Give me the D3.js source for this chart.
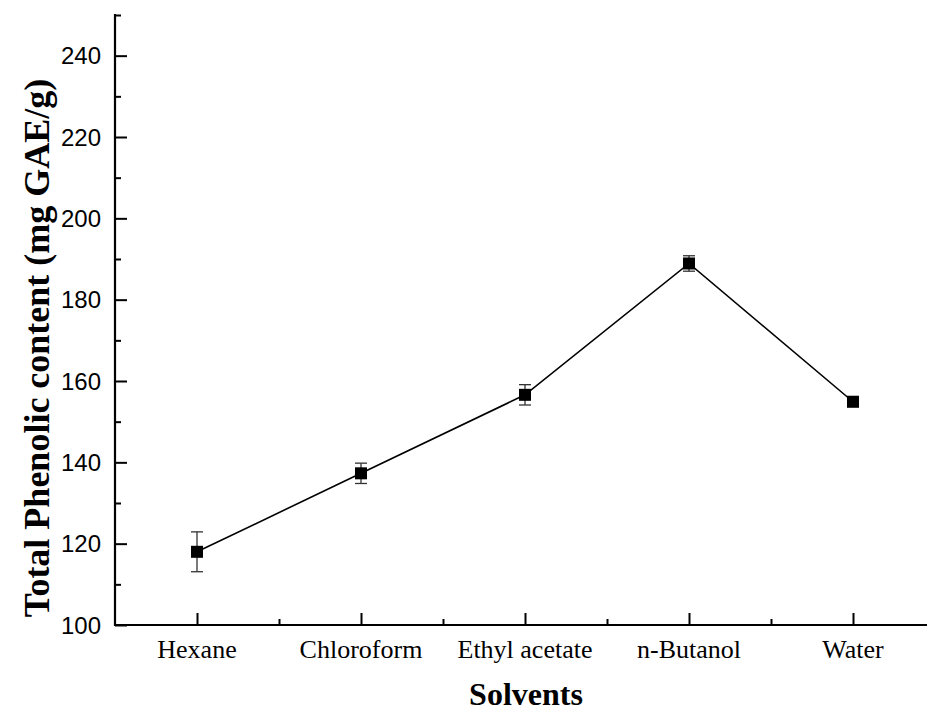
<!DOCTYPE html>
<html>
<head>
<meta charset="utf-8">
<script src="https://cdn.jsdelivr.net/npm/d3@7"></script>
<style>
  body { margin: 0; background: #fff; }
  svg { display: block; }
</style>
</head>
<body>
<svg id="chart" width="927" height="711"></svg>
<script>
  'use strict';

  // solvents and measured phenolic content (mean, sd)
  var solvents = ['Hexane', 'Chloroform', 'Ethyl acetate', 'n-Butanol', 'Water'];
  var phenolic = [118.0, 137.3, 156.6, 188.9, 154.9];
  var errors = [4.9, 2.5, 2.5, 1.9, 1.2];
  var yMajorTicks = [100, 120, 140, 160, 180, 200, 220, 240];
  var yMinorTicks = [110, 130, 150, 170, 190, 210, 230, 250];

  var svg = d3.select('#chart'),
      plotLeft = 115,
      plotBottom = 625,
      plotTop = 15;

  var x = d3.scaleLinear().domain([0.5, 5.5]).range([plotLeft, plotLeft + 5 * 164]);
  var y = d3.scaleLinear().domain([100, 250]).range([plotBottom, plotTop]);

  var points = solvents.map(function (s, i) {
    return {name: s, pos: i + 1, v: phenolic[i], e: errors[i]};
  });

  // y axis, ticks inside
  svg.append('g')
    .attr('transform', 'translate(' + plotLeft + ',0)')
    .call(d3.axisRight(y).tickValues(yMajorTicks).tickSize(12).tickFormat(''))
    .select('.domain').remove();
  svg.append('g')
    .attr('transform', 'translate(' + plotLeft + ',0)')
    .call(d3.axisRight(y).tickValues(yMinorTicks).tickSize(6).tickFormat(''))
    .select('.domain').remove();

  svg.selectAll('.ylab')
    .data(yMajorTicks)
    .enter()
    .append('text')
      .attr('class', 'ylab')
      .attr('x', plotLeft - 14)
      .attr('y', function (d) { return y(d) + 8.5; })
      .attr('text-anchor', 'end')
      .style('font-family', '"Liberation Sans", Arial, sans-serif')
      .style('font-size', '24px')
      .text(function (d) { return d; });

  // x axis, ticks inside
  svg.append('g')
    .attr('transform', 'translate(0,' + plotBottom + ')')
    .call(d3.axisTop(x).tickValues([1, 2, 3, 4, 5]).tickSize(12).tickFormat(''))
    .select('.domain').remove();
  svg.append('g')
    .attr('transform', 'translate(0,' + plotBottom + ')')
    .call(d3.axisTop(x).tickValues([1.5, 2.5, 3.5, 4.5]).tickSize(6).tickFormat(''))
    .select('.domain').remove();

  svg.selectAll('.tick line')
    .attr('stroke', '#000')
    .attr('stroke-width', 2);

  svg.append('line')
    .attr('x1', plotLeft).attr('y1', plotTop - 1)
    .attr('x2', plotLeft).attr('y2', plotBottom + 1)
    .attr('stroke', '#000').attr('stroke-width', 2.2);
  svg.append('line')
    .attr('x1', plotLeft - 1).attr('y1', plotBottom)
    .attr('x2', 927).attr('y2', plotBottom)
    .attr('stroke', '#000').attr('stroke-width', 2.2);

  svg.selectAll('.xlab')
    .data(points)
    .enter()
    .append('text')
      .attr('class', 'xlab')
      .attr('x', function (d) { return x(d.pos); })
      .attr('y', 658)
      .attr('text-anchor', 'middle')
      .style('font-family', '"Liberation Serif", "Times New Roman", serif')
      .style('font-size', '26px')
      .text(function (d) { return d.name; });

  // axis titles
  svg.append('text')
    .attr('x', 526)
    .attr('y', 705)
    .attr('text-anchor', 'middle')
    .style('font-family', '"Liberation Serif", "Times New Roman", serif')
    .style('font-weight', 'bold')
    .style('font-size', '32px')
    .text('Solvents');

  svg.append('text')
    .attr('transform', 'translate(49,348) rotate(-90)')
    .attr('text-anchor', 'middle')
    .style('font-family', '"Liberation Serif", "Times New Roman", serif')
    .style('font-weight', 'bold')
    .style('font-size', '36px')
    .text('Total Phenolic content (mg GAE/g)');

  // series line
  svg.append('path')
    .datum(points)
    .attr('fill', 'none')
    .attr('stroke', '#000')
    .attr('stroke-width', 1.6)
    .attr('d', d3.line()
      .x(function (d) { return x(d.pos); })
      .y(function (d) { return y(d.v); }));

  // error bars
  var eb = svg.selectAll('.err')
    .data(points)
    .enter()
    .append('g')
      .attr('class', 'err')
      .attr('stroke', '#333')
      .attr('stroke-width', 1.3);
  eb.append('line')
    .attr('x1', function (d) { return x(d.pos); })
    .attr('x2', function (d) { return x(d.pos); })
    .attr('y1', function (d) { return y(d.v + d.e); })
    .attr('y2', function (d) { return y(d.v - d.e); });
  eb.append('line')
    .attr('x1', function (d) { return x(d.pos) - 6; })
    .attr('x2', function (d) { return x(d.pos) + 6; })
    .attr('y1', function (d) { return y(d.v + d.e); })
    .attr('y2', function (d) { return y(d.v + d.e); });
  eb.append('line')
    .attr('x1', function (d) { return x(d.pos) - 6; })
    .attr('x2', function (d) { return x(d.pos) + 6; })
    .attr('y1', function (d) { return y(d.v - d.e); })
    .attr('y2', function (d) { return y(d.v - d.e); });

  // markers
  svg.selectAll('.pt')
    .data(points)
    .enter()
    .append('rect')
      .attr('class', 'pt')
      .attr('x', function (d) { return x(d.pos) - 6; })
      .attr('y', function (d) { return y(d.v) - 6; })
      .attr('width', 12)
      .attr('height', 12)
      .attr('fill', '#000');
</script>
</body>
</html>
